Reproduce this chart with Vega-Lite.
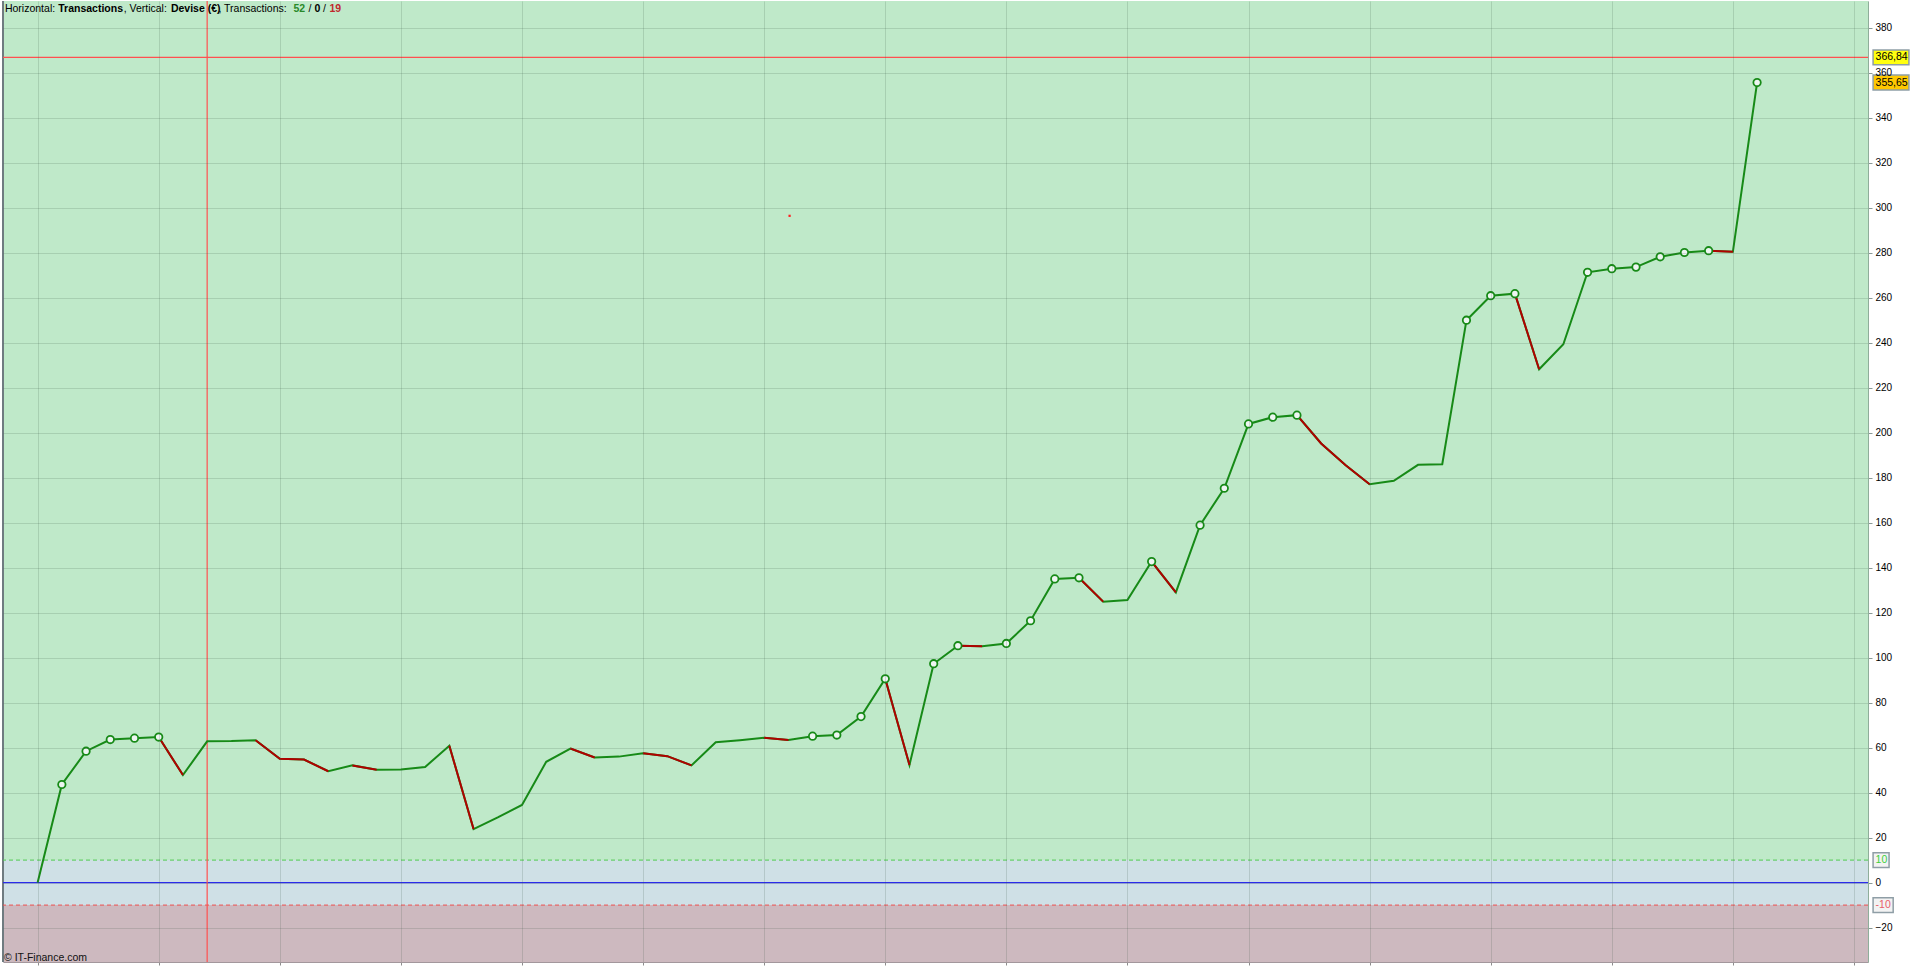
{
  "$schema": "https://vega.github.io/schema/vega-lite/v6.json",
  "description": "Transactions vs cumulative result (EUR)",
  "width": 1916,
  "height": 966,
  "autosize": {"type": "fit", "contains": "padding"},
  "padding": {"left": 2, "top": 0, "right": 5, "bottom": 0},
  "data": {
    "values": [
      {"t": 0, "v": 0, "rec": 0}, {"t": 1, "v": 43.6, "rec": 1}, {"t": 2, "v": 58.4, "rec": 1}, {"t": 3, "v": 63.6, "rec": 1},
      {"t": 4, "v": 64.2, "rec": 1}, {"t": 5, "v": 64.7, "rec": 1}, {"t": 6, "v": 47.8, "rec": 0}, {"t": 7, "v": 62.8, "rec": 0},
      {"t": 8, "v": 62.9, "rec": 0}, {"t": 9, "v": 63.3, "rec": 0}, {"t": 10, "v": 55.0, "rec": 0}, {"t": 11, "v": 54.7, "rec": 0},
      {"t": 12, "v": 49.5, "rec": 0}, {"t": 13, "v": 52.1, "rec": 0}, {"t": 14, "v": 50.2, "rec": 0}, {"t": 15, "v": 50.3, "rec": 0},
      {"t": 16, "v": 51.4, "rec": 0}, {"t": 17, "v": 60.8, "rec": 0}, {"t": 18, "v": 23.8, "rec": 0}, {"t": 19, "v": 29.0, "rec": 0},
      {"t": 20, "v": 34.5, "rec": 0}, {"t": 21, "v": 53.7, "rec": 0}, {"t": 22, "v": 59.6, "rec": 0}, {"t": 23, "v": 55.6, "rec": 0},
      {"t": 24, "v": 56.0, "rec": 0}, {"t": 25, "v": 57.5, "rec": 0}, {"t": 26, "v": 56.2, "rec": 0}, {"t": 27, "v": 52.1, "rec": 0},
      {"t": 28, "v": 62.4, "rec": 0}, {"t": 29, "v": 63.3, "rec": 0}, {"t": 30, "v": 64.4, "rec": 0}, {"t": 31, "v": 63.4, "rec": 0},
      {"t": 32, "v": 65.1, "rec": 1}, {"t": 33, "v": 65.6, "rec": 1}, {"t": 34, "v": 73.8, "rec": 1}, {"t": 35, "v": 90.6, "rec": 1},
      {"t": 36, "v": 52.3, "rec": 0}, {"t": 37, "v": 97.3, "rec": 1}, {"t": 38, "v": 105.3, "rec": 1}, {"t": 39, "v": 105.1, "rec": 0},
      {"t": 40, "v": 106.3, "rec": 1}, {"t": 41, "v": 116.4, "rec": 1}, {"t": 42, "v": 135.0, "rec": 1}, {"t": 43, "v": 135.5, "rec": 1},
      {"t": 44, "v": 124.9, "rec": 0}, {"t": 45, "v": 125.6, "rec": 0}, {"t": 46, "v": 142.7, "rec": 1}, {"t": 47, "v": 129.0, "rec": 0},
      {"t": 48, "v": 158.9, "rec": 1}, {"t": 49, "v": 175.3, "rec": 1}, {"t": 50, "v": 203.9, "rec": 1}, {"t": 51, "v": 206.9, "rec": 1},
      {"t": 52, "v": 207.8, "rec": 1}, {"t": 53, "v": 195.2, "rec": 0}, {"t": 54, "v": 185.6, "rec": 0}, {"t": 55, "v": 177.1, "rec": 0},
      {"t": 56, "v": 178.6, "rec": 0}, {"t": 57, "v": 185.7, "rec": 0}, {"t": 58, "v": 186.0, "rec": 0}, {"t": 59, "v": 250.0, "rec": 1},
      {"t": 60, "v": 260.9, "rec": 1}, {"t": 61, "v": 261.8, "rec": 1}, {"t": 62, "v": 228.2, "rec": 0}, {"t": 63, "v": 239.3, "rec": 0},
      {"t": 64, "v": 271.3, "rec": 1}, {"t": 65, "v": 272.9, "rec": 1}, {"t": 66, "v": 273.6, "rec": 1}, {"t": 67, "v": 278.2, "rec": 1},
      {"t": 68, "v": 280.1, "rec": 1}, {"t": 69, "v": 280.9, "rec": 1}, {"t": 70, "v": 280.4, "rec": 0}, {"t": 71, "v": 355.65, "rec": 1}
    ]
  },
  "layer": [
    {
      "data": {"values": [
        {"zone": "gain", "lo": 10, "hi": 391.9},
        {"zone": "flat", "lo": -10, "hi": 10},
        {"zone": "loss", "lo": -35.3, "hi": -10}
      ]},
      "mark": {"type": "rect"},
      "encoding": {
        "x": {
          "datum": -1.43, "type": "quantitative",
          "scale": {"domain": [-1.43, 75.58], "nice": false, "zero": false},
          "axis": {
            "values": [0, 5, 10, 15, 20, 25, 30, 35, 40, 45, 50, 55, 60, 65, 70, 75],
            "labels": false, "title": null, "grid": true,
            "gridColor": "#3c5a46", "gridOpacity": 0.18,
            "ticks": true, "tickSize": 3, "tickColor": "#8d8d8d",
            "domain": true, "domainColor": "#a3979c",
            "zindex": 1
          }
        },
        "x2": {"datum": 75.58},
        "y": {
          "field": "lo", "type": "quantitative",
          "scale": {"domain": [-35.3, 391.9], "nice": false, "zero": false},
          "axis": {
            "orient": "right",
            "values": [-20, 0, 20, 40, 60, 80, 100, 120, 140, 160, 180, 200, 220, 240, 260, 280, 300, 320, 340, 360, 380],
            "labelFontSize": 10, "labelColor": "#000000", "labelPadding": 3,
            "title": null, "grid": true,
            "gridColor": "#3c5a46", "gridOpacity": 0.18,
            "ticks": true, "tickSize": 4, "tickColor": "#8a9a96",
            "domain": true, "domainColor": "#8fae9a",
            "zindex": 1
          }
        },
        "y2": {"field": "hi"},
        "color": {
          "field": "zone", "type": "nominal", "legend": null,
          "scale": {"domain": ["gain", "flat", "loss"], "range": ["#bfe9c9", "#cfe0e6", "#cdb9bf"]}
        }
      }
    },
    {
      "data": {"values": [{}]},
      "mark": {"type": "rule", "color": "#6f7b80", "strokeWidth": 2},
      "encoding": {"x": {"datum": -1.43, "type": "quantitative"}}
    },
    {
      "data": {"values": [{}]},
      "mark": {"type": "rule", "color": "#4fc94f", "strokeDash": [4, 3]},
      "encoding": {"y": {"datum": 10, "type": "quantitative"}}
    },
    {
      "data": {"values": [{}]},
      "mark": {"type": "rule", "color": "#ee5050", "strokeDash": [4, 3]},
      "encoding": {"y": {"datum": -10, "type": "quantitative"}}
    },
    {
      "data": {"values": [{}]},
      "mark": {"type": "rule", "color": "#2b2bea", "strokeWidth": 1.3},
      "encoding": {"y": {"datum": 0, "type": "quantitative"}}
    },
    {
      "data": {"values": [{}]},
      "mark": {"type": "rule", "color": "#ff5050", "strokeWidth": 1.2},
      "encoding": {"y": {"datum": 366.84, "type": "quantitative"}}
    },
    {
      "data": {"values": [{}]},
      "mark": {"type": "rule", "color": "#ff5050", "strokeWidth": 1.2},
      "encoding": {"x": {"datum": 7, "type": "quantitative"}}
    },
    {
      "mark": {"type": "line", "color": "#178a17", "strokeWidth": 2},
      "encoding": {
        "x": {"field": "t", "type": "quantitative"},
        "y": {"field": "v", "type": "quantitative"}
      }
    },
    {
      "data": {"values": [
        {"run": 1, "t": 5, "v": 64.7}, {"run": 1, "t": 6, "v": 47.8},
        {"run": 2, "t": 9, "v": 63.3}, {"run": 2, "t": 10, "v": 55.0}, {"run": 2, "t": 11, "v": 54.7}, {"run": 2, "t": 12, "v": 49.5},
        {"run": 3, "t": 13, "v": 52.1}, {"run": 3, "t": 14, "v": 50.2},
        {"run": 4, "t": 17, "v": 60.8}, {"run": 4, "t": 18, "v": 23.8},
        {"run": 5, "t": 22, "v": 59.6}, {"run": 5, "t": 23, "v": 55.6},
        {"run": 6, "t": 25, "v": 57.5}, {"run": 6, "t": 26, "v": 56.2}, {"run": 6, "t": 27, "v": 52.1},
        {"run": 7, "t": 30, "v": 64.4}, {"run": 7, "t": 31, "v": 63.4},
        {"run": 8, "t": 35, "v": 90.6}, {"run": 8, "t": 36, "v": 52.3},
        {"run": 9, "t": 38, "v": 105.3}, {"run": 9, "t": 39, "v": 105.1},
        {"run": 10, "t": 43, "v": 135.5}, {"run": 10, "t": 44, "v": 124.9},
        {"run": 11, "t": 46, "v": 142.7}, {"run": 11, "t": 47, "v": 129.0},
        {"run": 12, "t": 52, "v": 207.8}, {"run": 12, "t": 53, "v": 195.2}, {"run": 12, "t": 54, "v": 185.6}, {"run": 12, "t": 55, "v": 177.1},
        {"run": 13, "t": 61, "v": 261.8}, {"run": 13, "t": 62, "v": 228.2},
        {"run": 14, "t": 69, "v": 280.9}, {"run": 14, "t": 70, "v": 280.4}
      ]},
      "mark": {"type": "line", "color": "#b00000", "strokeWidth": 2},
      "encoding": {
        "x": {"field": "t", "type": "quantitative"},
        "y": {"field": "v", "type": "quantitative"},
        "detail": {"field": "run", "type": "nominal"}
      }
    },
    {
      "transform": [{"filter": "datum.rec == 1"}],
      "mark": {"type": "point", "shape": "circle", "filled": true, "fill": "#eef5f2", "stroke": "#178a17", "strokeWidth": 1.8, "size": 55, "opacity": 1},
      "encoding": {
        "x": {"field": "t", "type": "quantitative"},
        "y": {"field": "v", "type": "quantitative"}
      }
    },
    {
      "data": {"values": [{"t": 31.05, "v": 296.4}]},
      "mark": {"type": "square", "color": "#ff2020", "size": 5, "opacity": 1},
      "encoding": {
        "x": {"field": "t", "type": "quantitative"},
        "y": {"field": "v", "type": "quantitative"}
      }
    },
    {
      "data": {"values": [
        {"v": 366.84, "label": "366,84", "kind": "max"},
        {"v": 355.65, "label": "355,65", "kind": "last"}
      ]},
      "transform": [
        {"calculate": "datum.v - 3.3", "as": "lo"},
        {"calculate": "datum.v + 3.3", "as": "hi"}
      ],
      "layer": [
        {
          "mark": {"type": "rect", "stroke": "#8f9ea6", "strokeWidth": 1.5},
          "encoding": {
            "x": {"datum": 75.79, "type": "quantitative"},
            "x2": {"datum": 77.27},
            "y": {"field": "lo", "type": "quantitative"},
            "y2": {"field": "hi"},
            "fill": {"condition": {"test": "datum.kind == 'max'", "value": "#ffff10"}, "value": "#ffc800"}
          }
        },
        {
          "mark": {"type": "text", "align": "left", "baseline": "middle", "dx": 2.5, "fontSize": 10.5, "color": "#000000"},
          "encoding": {
            "x": {"datum": 75.79, "type": "quantitative"},
            "y": {"field": "v", "type": "quantitative"},
            "text": {"field": "label", "type": "nominal"}
          }
        }
      ]
    },
    {
      "data": {"values": [{"v": 10, "label": "10"}]},
      "transform": [
        {"calculate": "datum.v - 3.3", "as": "lo"},
        {"calculate": "datum.v + 3.3", "as": "hi"}
      ],
      "layer": [
        {
          "mark": {"type": "rect", "stroke": "#8f9ea6", "strokeWidth": 1.5, "fill": "#f3f3f3"},
          "encoding": {
            "x": {"datum": 75.79, "type": "quantitative"},
            "x2": {"datum": 76.45},
            "y": {"field": "lo", "type": "quantitative"},
            "y2": {"field": "hi"}
          }
        },
        {
          "mark": {"type": "text", "align": "left", "baseline": "middle", "dx": 2.5, "fontSize": 10.5, "color": "#3ccf3c"},
          "encoding": {
            "x": {"datum": 75.79, "type": "quantitative"},
            "y": {"field": "v", "type": "quantitative"},
            "text": {"field": "label", "type": "nominal"}
          }
        }
      ]
    },
    {
      "data": {"values": [{"v": -10, "label": "-10"}]},
      "transform": [
        {"calculate": "datum.v - 3.3", "as": "lo"},
        {"calculate": "datum.v + 3.3", "as": "hi"}
      ],
      "layer": [
        {
          "mark": {"type": "rect", "stroke": "#8f9ea6", "strokeWidth": 1.5, "fill": "#f3f3f3"},
          "encoding": {
            "x": {"datum": 75.79, "type": "quantitative"},
            "x2": {"datum": 76.62},
            "y": {"field": "lo", "type": "quantitative"},
            "y2": {"field": "hi"}
          }
        },
        {
          "mark": {"type": "text", "align": "left", "baseline": "middle", "dx": 2.5, "fontSize": 10.5, "color": "#e8606a"},
          "encoding": {
            "x": {"datum": 75.79, "type": "quantitative"},
            "y": {"field": "v", "type": "quantitative"},
            "text": {"field": "label", "type": "nominal"}
          }
        }
      ]
    },
    {
      "data": {"values": [{}]},
      "mark": {"type": "text", "text": "© IT-Finance.com", "align": "left", "baseline": "alphabetic", "dx": 1, "fontSize": 10.5, "color": "#111111"},
      "encoding": {"x": {"datum": -1.43, "type": "quantitative"}, "y": {"datum": -34.9, "type": "quantitative"}}
    },
    {
      "data": {"values": [{}]},
      "mark": {"type": "text", "text": "Horizontal: ", "align": "left", "baseline": "alphabetic", "fontSize": 10.5, "color": "#000000", "dx": 0},
      "encoding": {"x": {"datum": -1.35, "type": "quantitative"}, "y": {"datum": 387.0, "type": "quantitative"}}
    },
    {
      "data": {"values": [{}]},
      "mark": {"type": "text", "text": "Transactions", "align": "left", "baseline": "alphabetic", "fontSize": 10.5, "fontWeight": "bold", "color": "#000000", "dx": 53.3},
      "encoding": {"x": {"datum": -1.35, "type": "quantitative"}, "y": {"datum": 387.0, "type": "quantitative"}}
    },
    {
      "data": {"values": [{}]},
      "mark": {"type": "text", "text": ", Vertical: ", "align": "left", "baseline": "alphabetic", "fontSize": 10.5, "color": "#000000", "dx": 118.7},
      "encoding": {"x": {"datum": -1.35, "type": "quantitative"}, "y": {"datum": 387.0, "type": "quantitative"}}
    },
    {
      "data": {"values": [{}]},
      "mark": {"type": "text", "text": "Devise (€)", "align": "left", "baseline": "alphabetic", "fontSize": 10.5, "fontWeight": "bold", "color": "#000000", "dx": 166},
      "encoding": {"x": {"datum": -1.35, "type": "quantitative"}, "y": {"datum": 387.0, "type": "quantitative"}}
    },
    {
      "data": {"values": [{}]},
      "mark": {"type": "text", "text": ", Transactions: ", "align": "left", "baseline": "alphabetic", "fontSize": 10.5, "color": "#000000", "dx": 213.5},
      "encoding": {"x": {"datum": -1.35, "type": "quantitative"}, "y": {"datum": 387.0, "type": "quantitative"}}
    },
    {
      "data": {"values": [{}]},
      "mark": {"type": "text", "text": "52", "align": "left", "baseline": "alphabetic", "fontSize": 10.5, "fontWeight": "bold", "color": "#2a8a2a", "dx": 288.5},
      "encoding": {"x": {"datum": -1.35, "type": "quantitative"}, "y": {"datum": 387.0, "type": "quantitative"}}
    },
    {
      "data": {"values": [{}]},
      "mark": {"type": "text", "text": "/", "align": "left", "baseline": "alphabetic", "fontSize": 10.5, "color": "#000000", "dx": 303.5},
      "encoding": {"x": {"datum": -1.35, "type": "quantitative"}, "y": {"datum": 387.0, "type": "quantitative"}}
    },
    {
      "data": {"values": [{}]},
      "mark": {"type": "text", "text": "0", "align": "left", "baseline": "alphabetic", "fontSize": 10.5, "fontWeight": "bold", "color": "#000000", "dx": 309.5},
      "encoding": {"x": {"datum": -1.35, "type": "quantitative"}, "y": {"datum": 387.0, "type": "quantitative"}}
    },
    {
      "data": {"values": [{}]},
      "mark": {"type": "text", "text": "/", "align": "left", "baseline": "alphabetic", "fontSize": 10.5, "color": "#000000", "dx": 318},
      "encoding": {"x": {"datum": -1.35, "type": "quantitative"}, "y": {"datum": 387.0, "type": "quantitative"}}
    },
    {
      "data": {"values": [{}]},
      "mark": {"type": "text", "text": "19", "align": "left", "baseline": "alphabetic", "fontSize": 10.5, "fontWeight": "bold", "color": "#c0282d", "dx": 324.5},
      "encoding": {"x": {"datum": -1.35, "type": "quantitative"}, "y": {"datum": 387.0, "type": "quantitative"}}
    }
  ]
}
